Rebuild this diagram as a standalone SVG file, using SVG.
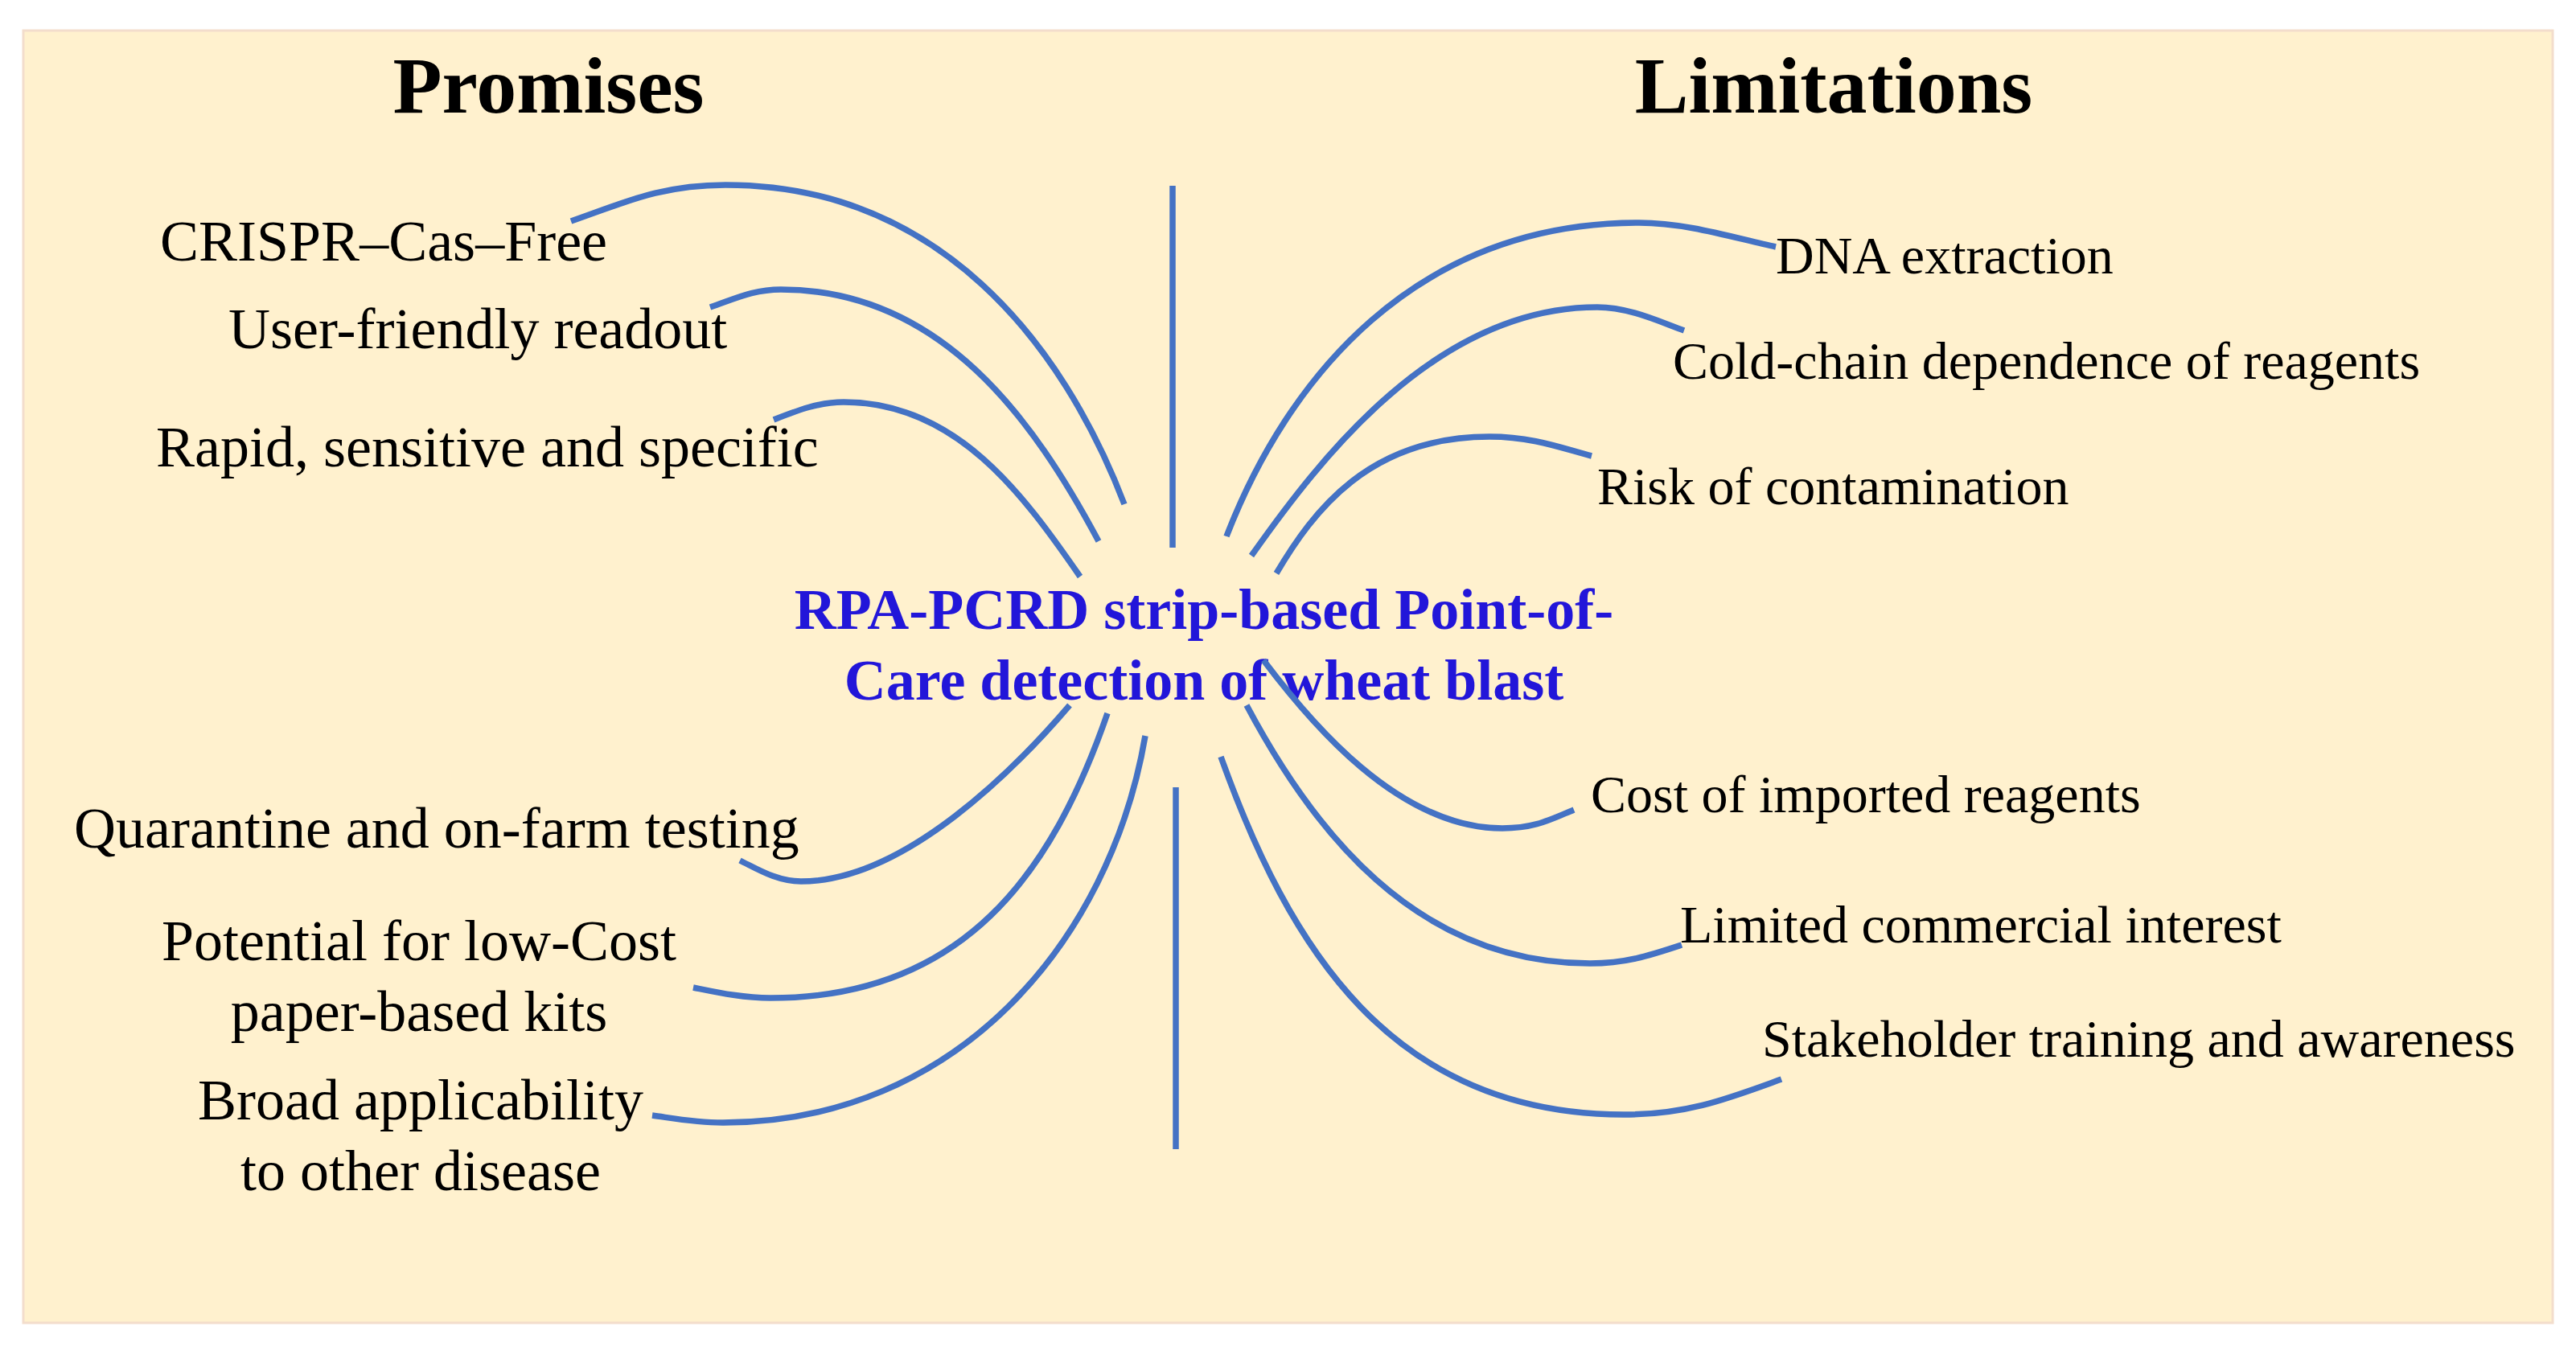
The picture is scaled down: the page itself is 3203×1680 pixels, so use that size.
<svg xmlns="http://www.w3.org/2000/svg" width="3203" height="1680" viewBox="0 0 3203 1680">
<style>
.bg{fill:#FFF1CE;stroke:#F3DDCC;stroke-width:3}
.ttl{font-family:"Liberation Serif","Times New Roman",serif;font-weight:bold;font-size:100px;fill:#000;text-anchor:middle}
.pl{font-family:"Liberation Serif","Times New Roman",serif;font-size:72px;fill:#000}
.lm{font-family:"Liberation Serif","Times New Roman",serif;font-size:66px;fill:#000}
.ctr{font-family:"Liberation Serif","Times New Roman",serif;font-weight:bold;font-size:72px;fill:#2216D9;text-anchor:middle}
.c{fill:none;stroke:#4472C4;stroke-width:7.5}
</style>
<rect class="bg" x="29" y="38" width="3145" height="1607"/>
<g id="title-promises"><text class="ttl" x="682" y="140">Promises</text></g>
<g id="title-limitations"><text class="ttl" x="2280" y="140">Limitations</text></g>
<g id="center"><text class="ctr" x="1497" y="782">RPA-PCRD strip-based Point-of-</text><text class="ctr" x="1497" y="870">Care detection of wheat blast</text></g>
<g id="p1"><text class="pl" x="199" y="324">CRISPR–Cas–Free</text></g>
<g id="p2"><text class="pl" x="284" y="433">User-friendly readout</text></g>
<g id="p3"><text class="pl" x="194" y="580">Rapid, sensitive and specific</text></g>
<g id="p4"><text class="pl" x="92" y="1054">Quarantine and on-farm testing</text></g>
<g id="p5"><text class="pl" x="521" y="1194" text-anchor="middle">Potential for low-Cost</text><text class="pl" x="521" y="1282" text-anchor="middle">paper-based kits</text></g>
<g id="p6"><text class="pl" x="523" y="1392" text-anchor="middle">Broad applicability</text><text class="pl" x="523" y="1480" text-anchor="middle">to other disease</text></g>
<g id="l1"><text class="lm" x="2208" y="340">DNA extraction</text></g>
<g id="l2"><text class="lm" x="2080" y="471">Cold-chain dependence of reagents</text></g>
<g id="l3"><text class="lm" x="1986" y="627">Risk of contamination</text></g>
<g id="l4"><text class="lm" x="1978" y="1010">Cost of imported reagents</text></g>
<g id="l5"><text class="lm" x="2089" y="1172">Limited commercial interest</text></g>
<g id="l6"><text class="lm" x="2191" y="1314">Stakeholder training and awareness</text></g>
<g id="connectors">
<line class="c" x1="1458" y1="231" x2="1458" y2="681"/>
<line class="c" x1="1462" y1="979" x2="1462" y2="1429"/>
<path class="c" d="M710,275 C776,252 822,230 902,230 C1167,230 1321,426.2 1398,627"/>
<path class="c" d="M883,382 C913,372 936,360 971,360 C1171,360 1285.8,523.1 1366,673"/>
<path class="c" d="M962,522 C990,511 1017,500 1049,500 C1189,500 1271.9,614.3 1343,717"/>
<path class="c" d="M1525,667 C1600.6,471.7 1758,277 2038,277 C2098,277 2158,296.4 2208,307"/>
<path class="c" d="M1556,691 C1642.4,568.5 1786,382 1986,382 C2026,382 2064,400.4 2094,411"/>
<path class="c" d="M1587,713 C1632.8,635.5 1702,543 1852,543 C1907,543 1944,558 1979,567"/>
<path class="c" d="M1330,877 C1265,953 1126,1096 996,1096 C966,1096 942,1080.8 920,1070"/>
<path class="c" d="M1377,887 C1308.5,1085.5 1198,1241 958,1241 C923,1241 890,1233.6 862,1228"/>
<path class="c" d="M1424,915 C1380.3,1171.4 1189,1396 899,1396 C864,1396 836,1390.4 811,1387"/>
<path class="c" d="M1571,821 C1628.3,896.8 1738,1030 1868,1030 C1908,1030 1927,1019.4 1957,1007"/>
<path class="c" d="M1550,877 C1629.7,1027.1 1757,1198 1977,1198 C2022,1198 2051,1188.2 2091,1175"/>
<path class="c" d="M1518,941 C1602.3,1176.5 1729,1386 2019,1386 C2099,1386 2150,1365.5 2215,1342"/>
</g>
</svg>
